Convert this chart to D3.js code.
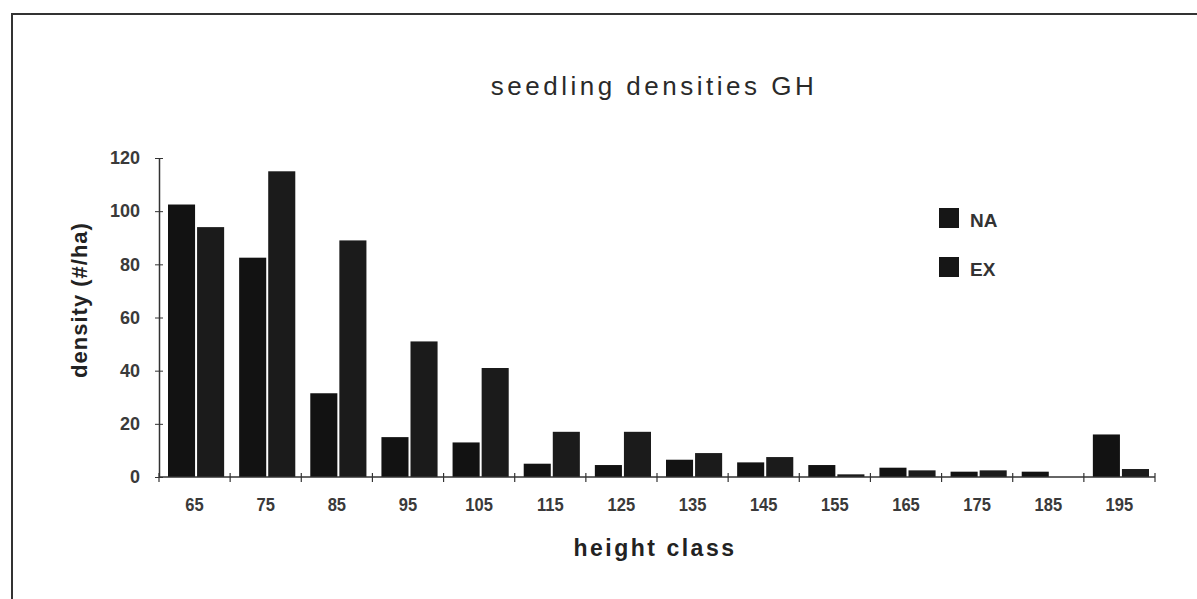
<!DOCTYPE html>
<html>
<head>
<meta charset="utf-8">
<script src="https://cdn.jsdelivr.net/npm/d3@7"></script>
<style>
  body { margin: 0; background: #fff; }
  svg { display: block; }
  .tick text { fill: #3a3a3a; }
</style>
</head>
<body>
<script>
// height classes and densities (#/ha)
var classes = ['65', '75', '85', '95', '105', '115', '125', '135', '145', '155', '165', '175', '185', '195']
var naValues = [102.5, 82.5, 31.5, 15, 13, 5, 4.5, 6.5, 5.5, 4.5, 3.5, 2, 2, 16]
var exValues = [94, 115, 89, 51, 41, 17, 17, 9, 7.5, 1, 2.5, 2.5, 0, 3]
var seriesNames = ['NA', 'EX']
var yTicks = [0, 20, 40, 60, 80, 100, 120]

var rows = classes.map(function(c, i){ return {cls: c, NA: naValues[i], EX: exValues[i]} })

var W = 1197, H = 599
var svg = d3.select('body').append('svg').attr('width', W).attr('height', H)

// scanned page frame
svg.append('path')
  .attr('d', 'M12,' + H + 'V14H' + W)
  .style('fill', 'none').style('stroke', '#333').style('stroke-width', 2)

var x0 = d3.scaleBand().domain(classes).range([159, 1155])
var x1 = d3.scaleBand().domain(seriesNames).range([9, x0.bandwidth() - 6])
var y = d3.scaleLinear().domain([0, 120]).range([477, 158])

// bars
var groups = svg.append('g').selectAll('g').data(rows).enter().append('g')
  .attr('transform', function(d){ return 'translate(' + x0(d.cls) + ',0)' })

groups.selectAll('rect')
  .data(function(d){ return seriesNames.map(function(s){ return {s: s, v: d[s]} }) })
  .enter().append('rect')
    .attr('x', function(d){ return x1(d.s) + (d.s == 'EX' ? 1 : 0) })
    .attr('width', function(d){ return x1.bandwidth() - 1 })
    .attr('y', function(d){ return y(d.v) })
    .attr('height', function(d){ return y(0) - y(d.v) })
    .style('fill', function(d){ return d.s == 'NA' ? '#121212' : '#1b1b1b' })

// y axis
var yAxis = d3.axisLeft(y).tickValues(yTicks).tickSizeInner(4).tickSizeOuter(0).tickPadding(15)
var gy = svg.append('g').attr('transform', 'translate(159,0)').call(yAxis)
gy.select('.domain').style('stroke', '#333').style('stroke-width', 1.5)
gy.selectAll('.tick line').attr('x2', 4).attr('x1', -4).style('stroke', '#333')
gy.selectAll('.tick text')
  .style('font-family', 'Liberation Sans, Arial, sans-serif').style('font-size', '18px').style('font-weight', 'bold')

// x axis: line, boundary ticks, class labels
svg.append('line')
  .attr('x1', x0.range()[0]).attr('x2', x0.range()[1])
  .attr('y1', y(0)).attr('y2', y(0))
  .style('stroke', '#333').style('stroke-width', 1.5)

var bounds = classes.map(function(c){ return x0(c) }).concat([x0.range()[1]])
svg.append('g').selectAll('line').data(bounds).enter().append('line')
  .attr('x1', function(d){ return d }).attr('x2', function(d){ return d })
  .attr('y1', y(0) - 4).attr('y2', y(0) + 5)
  .style('stroke', '#333').style('stroke-width', 1.2)

var xAxis = d3.axisBottom(x0).tickSize(0).tickPadding(21)
var gx = svg.append('g').attr('transform', 'translate(0,' + y(0) + ')').call(xAxis)
gx.select('.domain').remove()
gx.selectAll('.tick text')
  .style('font-family', 'Liberation Sans, Arial, sans-serif').style('font-size', '18px').style('font-weight', 'bold')
  .attr('transform', 'scale(0.92,1)')

// title and axis titles
svg.append('text').text('seedling densities GH')
  .attr('x', 654).attr('y', 95).attr('text-anchor', 'middle')
  .style('font-family', 'Liberation Sans, Arial, sans-serif').style('font-size', '26px')
  .style('letter-spacing', '3.5px').style('fill', '#2a2a2a')

svg.append('text').text('height class')
  .attr('x', 655).attr('y', 556).attr('text-anchor', 'middle')
  .style('font-family', 'Liberation Sans, Arial, sans-serif').style('font-size', '23px')
  .style('font-weight', 'bold').style('letter-spacing', '2.5px').style('fill', '#222')

svg.append('text').text('density (#/ha)')
  .attr('transform', 'translate(87,300) rotate(-90)').attr('text-anchor', 'middle')
  .style('font-family', 'Liberation Sans, Arial, sans-serif').style('font-size', '22px')
  .style('font-weight', 'bold').style('letter-spacing', '1px').style('fill', '#222')

// legend
var legend = svg.append('g').selectAll('g').data(seriesNames).enter().append('g')
  .attr('transform', function(d, i){ return 'translate(939,' + (208 + i * 49) + ')' })
legend.append('rect').attr('width', 20).attr('height', 20).style('fill', '#161616')
legend.append('text').text(function(d){ return d })
  .attr('x', 31).attr('y', 19)
  .style('font-family', 'Liberation Sans, Arial, sans-serif').style('font-size', '19px')
  .style('font-weight', 'bold').style('fill', '#333')
</script>
</body>
</html>
